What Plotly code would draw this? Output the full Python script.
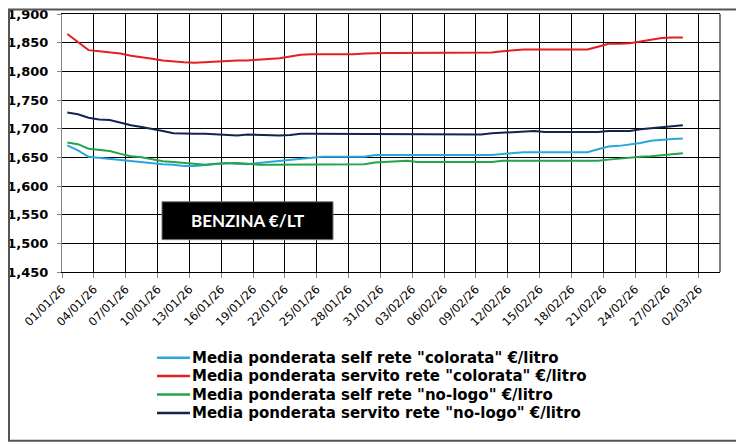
import pandas as pd
import plotly.graph_objects as go

dates = pd.date_range("2026-01-01", "2026-02-28", freq="D")

tick_dates = [
    "2026-01-01", "2026-01-04", "2026-01-07", "2026-01-10", "2026-01-13",
    "2026-01-16", "2026-01-19", "2026-01-22", "2026-01-25", "2026-01-28",
    "2026-01-31", "2026-02-03", "2026-02-06", "2026-02-09", "2026-02-12",
    "2026-02-15", "2026-02-18", "2026-02-21", "2026-02-24", "2026-02-27",
    "2026-03-02",
]

self_colorata = [
    1.671, 1.662, 1.651, 1.649, 1.647, 1.646, 1.644, 1.642, 1.640, 1.638,
    1.637, 1.635, 1.635, 1.637, 1.639, 1.640, 1.639, 1.638, 1.640, 1.642,
    1.644, 1.646, 1.648, 1.649, 1.651, 1.651, 1.651, 1.651, 1.651, 1.654,
    1.654, 1.654, 1.654, 1.654, 1.654, 1.654, 1.654, 1.654, 1.654, 1.654,
    1.654, 1.656, 1.658, 1.659, 1.659, 1.659, 1.659, 1.659, 1.659, 1.659,
    1.664, 1.669, 1.670, 1.672, 1.675, 1.679, 1.681, 1.682, 1.683,
]
servito_colorata = [
    1.865, 1.851, 1.837, 1.835, 1.833, 1.831, 1.827, 1.825, 1.822, 1.819,
    1.817, 1.816, 1.815, 1.816, 1.818, 1.819, 1.819, 1.819, 1.820, 1.822,
    1.823, 1.826, 1.829, 1.830, 1.830, 1.830, 1.829, 1.830, 1.831, 1.832,
    1.832, 1.832, 1.832, 1.832, 1.832, 1.832, 1.832, 1.832, 1.832, 1.832,
    1.833, 1.835, 1.837, 1.838, 1.838, 1.838, 1.838, 1.838, 1.838, 1.838,
    1.843, 1.848, 1.848, 1.849, 1.852, 1.855, 1.858, 1.859, 1.859,
]
self_nologo = [
    1.676, 1.673, 1.665, 1.663, 1.661, 1.656, 1.652, 1.650, 1.646, 1.643,
    1.642, 1.640, 1.639, 1.637, 1.639, 1.640, 1.640, 1.639, 1.637, 1.637,
    1.637, 1.638, 1.638, 1.638, 1.638, 1.638, 1.638, 1.638, 1.638, 1.641,
    1.642, 1.643, 1.644, 1.642, 1.642, 1.642, 1.642, 1.642, 1.642, 1.642,
    1.642, 1.644, 1.644, 1.644, 1.644, 1.644, 1.644, 1.644, 1.644, 1.644,
    1.644, 1.646, 1.648, 1.649, 1.651, 1.652, 1.654, 1.656, 1.657,
]
servito_nologo = [
    1.728, 1.725, 1.719, 1.716, 1.715, 1.710, 1.706, 1.703, 1.700, 1.696,
    1.692, 1.691, 1.691, 1.691, 1.690, 1.689, 1.688, 1.690, 1.689, 1.688,
    1.688, 1.689, 1.691, 1.691, 1.691, 1.691, 1.691, 1.691, 1.691, 1.691,
    1.691, 1.691, 1.691, 1.691, 1.691, 1.691, 1.691, 1.691, 1.691, 1.690,
    1.692, 1.693, 1.694, 1.695, 1.696, 1.694, 1.694, 1.694, 1.694, 1.694,
    1.694, 1.696, 1.696, 1.696, 1.699, 1.701, 1.703, 1.705, 1.706,
]

series = [
    ('Media ponderata self rete "colorata" €/litro', self_colorata, "#2AA7DD"),
    ('Media ponderata servito rete "colorata" €/litro', servito_colorata, "#E31F1F"),
    ('Media ponderata self rete "no-logo" €/litro', self_nologo, "#23A34A"),
    ('Media ponderata servito rete "no-logo" €/litro', servito_nologo, "#14244F"),
]

# Excel date axis: each daily point sits in the middle of its day slot
x_mid = dates + pd.Timedelta(hours=12)

fig = go.Figure()
for name, vals, color in series:
    fig.add_trace(go.Scatter(
        x=x_mid, y=vals, name=name, mode="lines",
        line=dict(color=color, width=2), showlegend=False,
    ))

# page body has an 8px default margin, so the figure is offset by 8px
PW, PH = 658.0, 259.0          # plot area size in px
ML, MT = 54.0, 5.5             # left / top margins in px

def px_x(x):                    # figure px -> paper x
    return (x - ML) / PW

def px_y(y):                    # figure px -> paper y
    return (MT + PH - y) / PH

fig.update_layout(
    width=736, height=437,
    margin=dict(l=ML, r=24, t=MT, b=437 - MT - PH, autoexpand=False),
    paper_bgcolor="white", plot_bgcolor="white",
    separators=",.",
    font=dict(family="DejaVu Sans", color="black"),
    showlegend=False,
)
fig.update_xaxes(
    type="date",
    range=["2026-01-01", "2026-03-04"],
    tickmode="array", tickvals=tick_dates,
    tickformat="%d/%m/%y", tickangle=-45,
    tickfont=dict(family="DejaVu Sans", size=11.5, color="black"),
    showgrid=True, gridcolor="black", gridwidth=1,
    showline=True, linecolor="black", linewidth=1, mirror=True,
    ticks="outside", ticklen=5, tickcolor="#888888",
    automargin=False, ticklabeloverflow="allow",
)
fig.update_yaxes(
    range=[1.45, 1.90], dtick=0.05, tick0=1.45,
    tickformat=".3f",
    tickfont=dict(family="DejaVu Sans", size=13, weight=700, color="black"),
    showgrid=True, gridcolor="black", gridwidth=1,
    showline=True, linecolor="#888888", linewidth=1,
    ticks="outside", ticklen=4, tickcolor="#888888",
    ticklabelstandoff=6,
    zeroline=False, automargin=False, ticklabeloverflow="allow",
)

# right border of plot area
fig.add_shape(type="line", xref="paper", yref="paper", x0=1, x1=1, y0=0, y1=1,
              line=dict(color="black", width=1))
# outer frame (figure edges)
fig.add_shape(type="rect", xref="paper", yref="paper",
              x0=px_x(1), x1=px_x(732), y0=px_y(434), y1=px_y(1),
              line=dict(color="#555555", width=2))
# label box
fig.add_shape(type="rect", xref="paper", yref="paper",
              x0=px_x(154), x1=px_x(325), y0=px_y(232), y1=px_y(194),
              fillcolor="black", line=dict(color="#777777", width=1))
fig.add_annotation(
    xref="paper", yref="paper", x=px_x(239.5), y=px_y(213),
    xanchor="center", yanchor="middle",
    text="<b>BENZINA €/LT</b>", showarrow=False,
    font=dict(family="Lato", size=17, color="white"),
)

# legend (Excel style, tight rows)
for i, (name, vals, color) in enumerate(series):
    yc = 350.5 + i * 18.5
    fig.add_shape(type="line", xref="paper", yref="paper",
                  x0=px_x(149), x1=px_x(182), y0=px_y(yc), y1=px_y(yc),
                  line=dict(color=color, width=2.5))
    fig.add_annotation(
        xref="paper", yref="paper", x=px_x(182), y=px_y(yc),
        xanchor="left", yanchor="middle", showarrow=False,
        text=name,
        font=dict(family="DejaVu Sans", size=15, weight=700, color="black"),
    )

fig.write_html("out.html")
